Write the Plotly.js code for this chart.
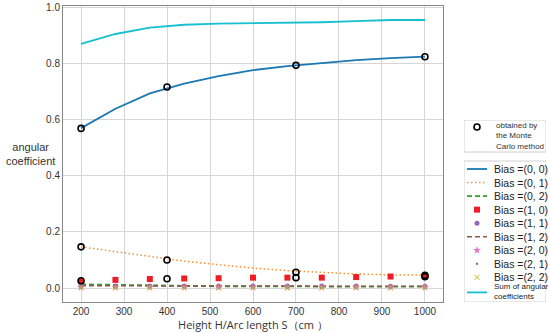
<!DOCTYPE html>
<html><head><meta charset="utf-8">
<script src="https://cdn.plot.ly/plotly-3.0.1.min.js"></script>
<style>body{margin:0;background:#fff}#c{width:550px;height:333px}</style>
</head><body><div id="c"></div>
<script>
const xs = [200, 280, 360, 440, 520, 600, 680, 760, 840, 920, 1000];
const b00 = [0.571, 0.640, 0.695, 0.730, 0.757, 0.778, 0.792, 0.804, 0.814, 0.821, 0.826];
const b01 = [0.147, 0.130, 0.112, 0.096, 0.083, 0.071, 0.062, 0.055, 0.050, 0.047, 0.046];
const b02 = [0.013, 0.011, 0.009, 0.007, 0.006, 0.006, 0.005, 0.005, 0.005, 0.005, 0.005];
const b10 = [0.025, 0.029, 0.032, 0.034, 0.035, 0.037, 0.037, 0.037, 0.039, 0.041, 0.043];
const b11 = [0.007, 0.007, 0.007, 0.007, 0.007, 0.007, 0.007, 0.007, 0.007, 0.006, 0.006];
const b12 = [0.008, 0.008, 0.007, 0.007, 0.007, 0.007, 0.007, 0.007, 0.007, 0.006, 0.006];
const b20 = [0.002, 0.002, 0.002, 0.002, 0.002, 0.002, 0.002, 0.002, 0.002, 0.002, 0.002];
const b21 = [0.001, 0.001, 0.001, 0.001, 0.001, 0.001, 0.001, 0.001, 0.001, 0.001, 0.001];
const b22 = [0.001, 0.001, 0.001, 0.001, 0.001, 0.001, 0.001, 0.001, 0.001, 0.001, 0.001];
const sumCoef = [0.872, 0.907, 0.930, 0.940, 0.944, 0.945, 0.946, 0.949, 0.953, 0.957, 0.957];
const mcX = [200, 400, 700, 1000, 200, 400, 700, 1000, 200, 400, 700, 1000];
const mcY = [0.570, 0.718, 0.795, 0.826, 0.147, 0.100, 0.056, 0.045, 0.026, 0.033, 0.037, 0.040];
const xTicks = [200, 300, 400, 500, 600, 700, 800, 900, 1000];
const yTicks = [0, 0.2, 0.4, 0.6, 0.8, 1.0];
const yTickText = ['0.0', '0.2', '0.4', '0.6', '0.8', '1.0'];
const seriesNames = ['Bias =(0, 0)', 'Bias =(0, 1)', 'Bias =(0, 2)', 'Bias =(1, 0)', 'Bias =(1, 1)',
  'Bias =(1, 2)', 'Bias =(2, 0)', 'Bias =(2, 1)', 'Bias =(2, 2)', 'Sum of angular<br>coefficients'];
const mcName = 'obtained by<br>the Monte<br>Carlo method';

// styles
const styles = [
  {mode: 'lines', line: {color: '#1a78b4', width: 1.8}},
  {mode: 'lines', line: {color: '#ff8c2e', width: 1.5, dash: '1.5px,2.5px'}},
  {mode: 'lines', line: {color: '#2ca02c', width: 1.8, dash: '5px,3px'}},
  {mode: 'markers', marker: {color: '#ee1c24', symbol: 'square', size: 6}},
  {mode: 'markers', marker: {color: '#9467bd', symbol: 'circle', size: 5}},
  {mode: 'lines', line: {color: '#8c564b', width: 1.5, dash: '5px,3px'}},
  {mode: 'markers', marker: {color: '#e377c2', symbol: 'star', size: 6}},
  {mode: 'markers', marker: {color: '#7f7f7f', symbol: 'circle', size: 2.5}},
  {mode: 'markers', marker: {color: '#bcbd22', symbol: 'x-thin-open', size: 5, line: {color: '#bcbd22', width: 1}}},
  {mode: 'lines', line: {color: '#17bfd0', width: 1.8}}
];
const mcStyle = {mode: 'markers', marker: {symbol: 'circle-open', color: '#000', size: 6, line: {width: 1.6, color: '#000'}}};
const series = [b00, b01, b02, b10, b11, b12, b20, b21, b22, sumCoef];

const traces = [];
series.forEach((ys, i) => traces.push(Object.assign({x: xs, y: ys, name: seriesNames[i], showlegend: false, xaxis: 'x', yaxis: 'y'}, styles[i])));
traces.push(Object.assign({x: mcX, y: mcY, name: mcName, showlegend: false}, mcStyle));

// custom legend drawn on a helper axis pair measured in pixels
const W = 550, H = 333, ML = 63, MR = 2, MT = 6, MB = 31;
const PW = W - ML - MR, PH = H - MT - MB;
const mainRight = 443;
const legL = 464, legR = 546;
const legTop1 = 120, legBot1 = 152, legTop2 = 161, legBot2 = 302;
const rowStart = 169, rowStep = 13.55;
const keyX0 = 467, keyX1 = 487, keyXm = 477, textX = 493;

const annotations = [
  {text: 'angular<br>coefficient', xref: 'paper', yref: 'paper', x: -0.068, y: 0.50, xanchor: 'center', yanchor: 'middle',
   showarrow: false, font: {size: 11, color: '#333'}}
];
const shapes = [
  {type: 'rect', xref: 'x2', yref: 'y2', x0: legL, x1: legR, y0: legTop1, y1: legBot1, line: {color: '#d0d0d0', width: 1}, fillcolor: '#fff', layer: 'below'},
  {type: 'rect', xref: 'x2', yref: 'y2', x0: legL, x1: legR, y0: legTop2, y1: legBot2, line: {color: '#d0d0d0', width: 1}, fillcolor: '#fff', layer: 'below'}
];
// MC legend entry
traces.push(Object.assign({x: [keyXm], y: [127], xaxis: 'x2', yaxis: 'y2', showlegend: false}, mcStyle));
annotations.push({text: mcName, xref: 'x2', yref: 'y2', x: textX + 2, y: 135.5, xanchor: 'left', yanchor: 'middle', align: 'left',
  showarrow: false, font: {size: 8, color: '#333'}, borderpad: 0});
seriesNames.forEach((nm, i) => {
  const isLast = i === seriesNames.length - 1;
  const yr = isLast ? rowStart + rowStep * (i - 1) + 15 : rowStart + rowStep * i;
  const st = styles[i];
  if (st.mode === 'lines') {
    traces.push(Object.assign({x: [keyX0, keyX1], y: [yr, yr], xaxis: 'x2', yaxis: 'y2', showlegend: false}, st));
  } else {
    traces.push(Object.assign({x: [keyXm], y: [yr], xaxis: 'x2', yaxis: 'y2', showlegend: false}, st));
  }
  annotations.push({text: nm, xref: 'x2', yref: 'y2', x: textX, y: isLast ? yr - 0.5 : yr, xanchor: 'left', yanchor: 'middle', align: 'left',
    showarrow: false, borderpad: 0, font: {size: isLast ? 8 : 10.5, color: '#222'}});
});

const layout = {
  width: W, height: H,
  margin: {l: ML, r: MR, t: MT, b: MB, autoexpand: false},
  paper_bgcolor: '#fff', plot_bgcolor: 'rgba(0,0,0,0)',
  font: {family: 'Liberation Sans, Arial, sans-serif', size: 10, color: '#333'},
  showlegend: false,
  xaxis: {domain: [0, (mainRight - ML) / PW], range: [158, 1042], tickvals: xTicks, showgrid: true, gridcolor: '#d6d6d6', gridwidth: 1,
    showline: true, linecolor: '#888', mirror: true, zeroline: false, ticks: '', ticklen: 0,
    tickfont: {size: 10, color: '#333'},
    title: {text: 'Height H/Arc length S（cm ）', font: {family: 'Open Sans, sans-serif', size: 11, color: '#333'}, standoff: 4}},
  yaxis: {range: [-0.05, 1.007], tickvals: yTicks, ticktext: yTickText, showgrid: true, gridcolor: '#d6d6d6', gridwidth: 1,
    showline: true, linecolor: '#888', mirror: true, zeroline: false, ticks: '', ticklen: 0,
    tickfont: {size: 10, color: '#333'}},
  xaxis2: {domain: [(legL - ML) / PW, (legR - ML) / PW], range: [legL, legR], anchor: 'y2', visible: false, fixedrange: true},
  yaxis2: {domain: [0, (H - MB - legTop1) / PH], range: [legBot2, legTop1], anchor: 'x2', visible: false, fixedrange: true},
  shapes: shapes,
  annotations: annotations
};
Plotly.newPlot('c', traces, layout, {staticPlot: true});
</script></body></html>
